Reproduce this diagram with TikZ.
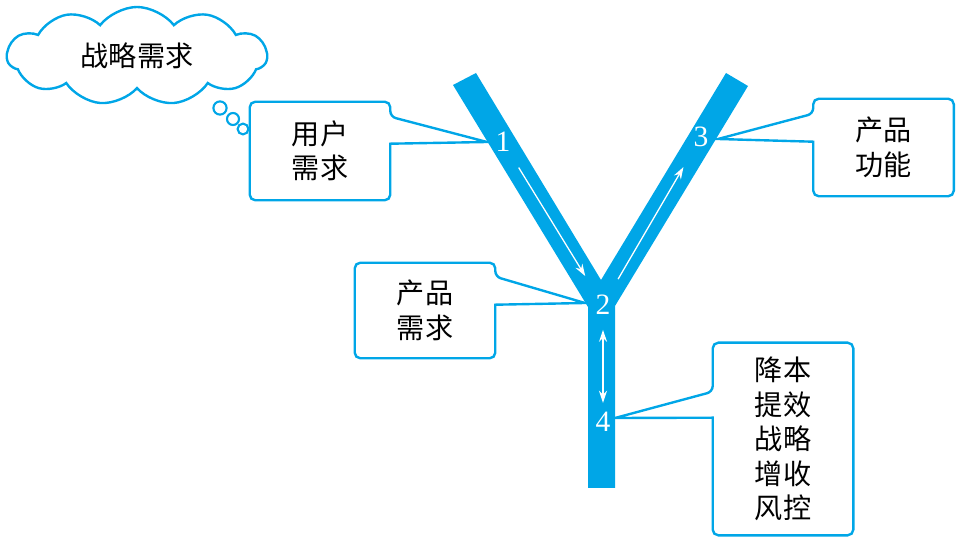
\documentclass[tikz,border=0pt]{standalone}
\usepackage{fontspec}
\newfontfamily\cjk{Noto Sans CJK SC}
\newfontfamily\numfont{Liberation Serif}
\usetikzlibrary{shapes.symbols,arrows.meta,calc}
\definecolor{yblue}{RGB}{0,166,231}

\begin{document}
\begin{tikzpicture}[x=0.025cm,y=-0.025cm,
    txt/.style={align=center, font=\cjk\fontsize{20}{24.5}\selectfont},
    box/.style={txt, minimum width=3.5cm},
    callout/.style={draw=yblue, line width=1.7pt, rounded corners=4pt},
    num/.style={text=white, inner sep=0pt, font=\numfont\fontsize{21}{24}\selectfont},
    flow/.style={white, line width=0.9pt, shorten <=0.75cm, -{Stealth[length=3mm,width=2mm]}},
    bubble/.style={circle, draw=yblue, line width=1.5pt, inner sep=0pt}]
    \useasboundingbox (0,0) rectangle (962,543);

    % thought cloud
    \node[cloud, draw=yblue, line width=1.7pt, cloud puffs=11, cloud puff arc=105, aspect=2.7,
          minimum width=6.5cm, minimum height=2.45cm, txt] (need) at (137,56) {战略需求};
    \node[bubble, minimum size=0.33cm] (c1) at (220,108) {};
    \node[bubble, minimum size=0.3cm] (c2) at (233,119) {};
    \node[bubble, minimum size=0.27cm] (c3) at (243,129) {};

    % tips of the callouts
    \coordinate (t1) at (487,142);
    \coordinate (t2) at (585,303);
    \coordinate (t3) at (718,139);
    \coordinate (t4) at (615,418);

    % callout boxes
    \node[box, minimum height=2.45cm] (b1) at (320,151) {用户\\需求};
    \node[box, minimum height=2.375cm] (b2) at (425,310.5) {产品\\需求};
    \node[box, minimum height=2.425cm] (b3) at (883.5,147.5) {产品\\功能};
    \node[box, minimum height=4.8cm] (b4) at (783,439) {降本\\提效\\战略\\增收\\风控};
    \draw[callout] (b1.north west) -- (b1.north east) -- ($(b1.north east)+(0,15)$) [sharp corners] -- (t1)
        -- ($(b1.north east)+(0,42)$) [rounded corners=4pt] -- (b1.south east) -- (b1.south west) -- cycle;
    \draw[callout] (b2.north west) -- (b2.north east) -- ($(b2.north east)+(0,14)$) [sharp corners] -- (t2)
        -- ($(b2.north east)+(0,42)$) [rounded corners=4pt] -- (b2.south east) -- (b2.south west) -- cycle;
    \draw[callout] (b3.north east) -- (b3.north west) -- ($(b3.north west)+(0,15)$) [sharp corners] -- (t3)
        -- ($(b3.north west)+(0,43)$) [rounded corners=4pt] -- (b3.south west) -- (b3.south east) -- cycle;
    \draw[callout] (b4.north east) -- (b4.north west) -- ($(b4.north west)+(0,49)$) [sharp corners] -- (t4)
        -- ($(b4.north west)+(0,75)$) [rounded corners=4pt] -- (b4.south west) -- (b4.south east) -- cycle;

    % the Y
    \fill[yblue] (453,85) -- (476,73) -- (601,280) -- (726,73) -- (748,86) -- (615,306)
        -- (615,488) -- (588,488) -- (588,307) -- cycle;
    \node[num] (n1) at (503,142) {1};
    \node[num] (n2) at (603,305) {2};
    \node[num] (n3) at (701,137) {3};
    \node[num] (n4) at (603,422) {4};
    \draw[flow, shorten >=0.85cm] (n1.center) -- (n2.center);
    \draw[flow, shorten >=0.87cm] (n2.center) -- (n3.center);
    \draw[flow, shorten <=0.62cm, shorten >=0.48cm, {Stealth[length=3mm,width=2mm]}-{Stealth[length=3mm,width=2mm]}] (n2.center) -- (n4.center);
\end{tikzpicture}
\end{document}
